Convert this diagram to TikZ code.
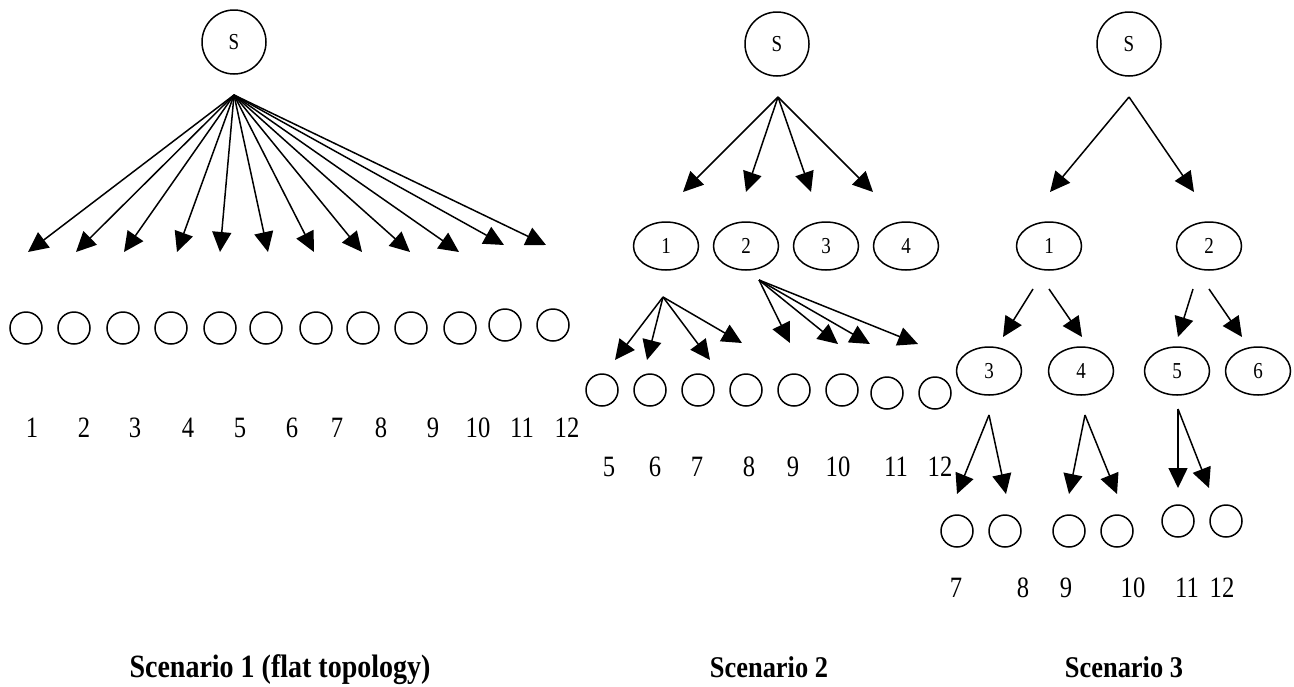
\documentclass[tikz,border=0pt]{standalone}
\usepackage{fontspec}
\setmainfont{Liberation Serif}
\usetikzlibrary{arrows.meta,shapes.geometric}
\tikzset{
  bigc/.style={draw,ellipse,line width=0.75pt,minimum width=32pt,minimum height=32pt,inner sep=0pt},
  smallc/.style={draw,ellipse,line width=0.75pt,minimum width=16pt,minimum height=16pt,inner sep=0pt},
  ell/.style={draw,ellipse,line width=0.75pt,minimum width=32.5pt,minimum height=24pt,inner sep=0pt},
  inlab/.style={font=\fontsize{9.5pt}{10pt}\selectfont},
  lab/.style={inner sep=0pt,font=\fontsize{12.3pt}{13pt}\selectfont},
  captxt/.style={inner sep=0pt,anchor=base,font=\bfseries\fontsize{13.2pt}{14pt}\selectfont},
  arr/.style={line width=0.75pt,-{Triangle[length=10pt,width=9.5pt]}}
}
\newcommand{\stretchtxt}[2]{\scalebox{1}[#1]{#2}}
\begin{document}
\begin{tikzpicture}[x=0.5pt,y=-0.5pt]
\useasboundingbox (0,0) rectangle (1294,686);
% ---------- Scenario 1 ----------
\node[bigc,inlab] (S1) at (234,42) {\stretchtxt{1.2}{S}};
\coordinate (o1) at (234,95);
\foreach \x/\y [count=\i] in {28/252,76/252,124/252,177/252,220/252,268/252,314/252,362/252,410/252,459/252,504/245,546/245}{
  \coordinate (t1-\i) at (\x,\y);
  \draw[arr] (o1) -- (t1-\i);
}
\foreach \x/\y [count=\i] in {26/328,74/328,123/328,171/328,220/328,266/328,316/328,363/328,411/328,460/328,505/325,553/325}{
  \node[smallc] (c1-\i) at (\x,\y) {};
}
\foreach \x [count=\i] in {32,84,135,188,240,292,337,381,433,478,522,567}{
  \node[lab] (l1-\i) at (\x,428) {\stretchtxt{1.2}{\i}};
}
% ---------- Scenario 2 ----------
\node[bigc,inlab] (S2) at (777,44) {\stretchtxt{1.2}{S}};
\coordinate (o2) at (778,97);
\foreach \x [count=\i] in {683,746,811,873}{
  \coordinate (t2-\i) at (\x,192);
  \draw[arr] (o2) -- (t2-\i);
}
\foreach \x [count=\i] in {666,746,826,906}{
  \node[ell,inlab] (A\i) at (\x,246) {\stretchtxt{1.2}{\i}};
}
\coordinate (oa) at (663,297);
\foreach \x/\y [count=\i] in {615/360,647/360,710/360,742/343}{
  \coordinate (ta-\i) at (\x,\y);
  \draw[arr] (oa) -- (ta-\i);
}
\coordinate (ob) at (759,280);
\foreach \x/\y [count=\i] in {790/343,838/344,870/344,918/344}{
  \coordinate (tb-\i) at (\x,\y);
  \draw[arr] (ob) -- (tb-\i);
}
\foreach \x/\y [count=\i] in {602/390,650/390,698/390,746/390,794/390,842/390,887/393,935/393}{
  \node[smallc] (c2-\i) at (\x,\y) {};
}
\foreach \x/\t [count=\i] in {609/5,655/6,697/7,749/8,793/9,838/10,896/11,940/12}{
  \node[lab] (l2-\i) at (\x,467) {\stretchtxt{1.2}{\t}};
}
% ---------- Scenario 3 ----------
\node[bigc,inlab] (S3) at (1129,44) {\stretchtxt{1.2}{S}};
\coordinate (o3) at (1129,97);
\coordinate (t3-1) at (1050,192);
\coordinate (t3-2) at (1194,192);
\draw[arr] (o3) -- (t3-1);
\draw[arr] (o3) -- (t3-2);
\node[ell,inlab] (B1) at (1049,246) {\stretchtxt{1.2}{1}};
\node[ell,inlab] (B2) at (1209,246) {\stretchtxt{1.2}{2}};
\coordinate (ob1a) at (1033,289); \coordinate (tb1a) at (1003,337);
\coordinate (ob1b) at (1049,289); \coordinate (tb1b) at (1082,337);
\coordinate (ob2a) at (1193,289); \coordinate (tb2a) at (1178,337);
\coordinate (ob2b) at (1209,289); \coordinate (tb2b) at (1242,337);
\draw[arr] (ob1a) -- (tb1a);
\draw[arr] (ob1b) -- (tb1b);
\draw[arr] (ob2a) -- (tb2a);
\draw[arr] (ob2b) -- (tb2b);
\node[ell,inlab] (B3) at (989,371) {\stretchtxt{1.2}{3}};
\node[ell,inlab] (B4) at (1081,371) {\stretchtxt{1.2}{4}};
\node[ell,inlab] (B5) at (1177,371) {\stretchtxt{1.2}{5}};
\node[ell,inlab] (B6) at (1258,371) {\stretchtxt{1.2}{6}};
\coordinate (ob3) at (989,415);
\coordinate (tb3a) at (957,494); \coordinate (tb3b) at (1006,494);
\coordinate (ob4) at (1085,415);
\coordinate (tb4a) at (1069,494); \coordinate (tb4b) at (1117,494);
\coordinate (ob5) at (1178,409);
\coordinate (tb5a) at (1178,488); \coordinate (tb5b) at (1209,488);
\draw[arr] (ob3) -- (tb3a);
\draw[arr] (ob3) -- (tb3b);
\draw[arr] (ob4) -- (tb4a);
\draw[arr] (ob4) -- (tb4b);
\draw[arr] (ob5) -- (tb5a);
\draw[arr] (ob5) -- (tb5b);
\foreach \x/\y [count=\i] in {957/531,1005/531,1069/531,1117/531,1178/521,1226/521}{
  \node[smallc] (c3-\i) at (\x,\y) {};
}
\foreach \x/\t [count=\i] in {956/7,1023/8,1066/9,1133/10,1187/11,1222/12}{
  \node[lab] (l3-\i) at (\x,588) {\stretchtxt{1.2}{\t}};
}
% ---------- Captions ----------
\node[captxt,font=\bfseries\fontsize{14pt}{15pt}\selectfont] (cap1) at (280,677) {\stretchtxt{1.16}{Scenario 1 (flat topology)}};
\node[captxt] (cap2) at (769,677) {\stretchtxt{1.14}{Scenario 2}};
\node[captxt] (cap3) at (1124,677) {\stretchtxt{1.14}{Scenario 3}};
\end{tikzpicture}
\end{document}
